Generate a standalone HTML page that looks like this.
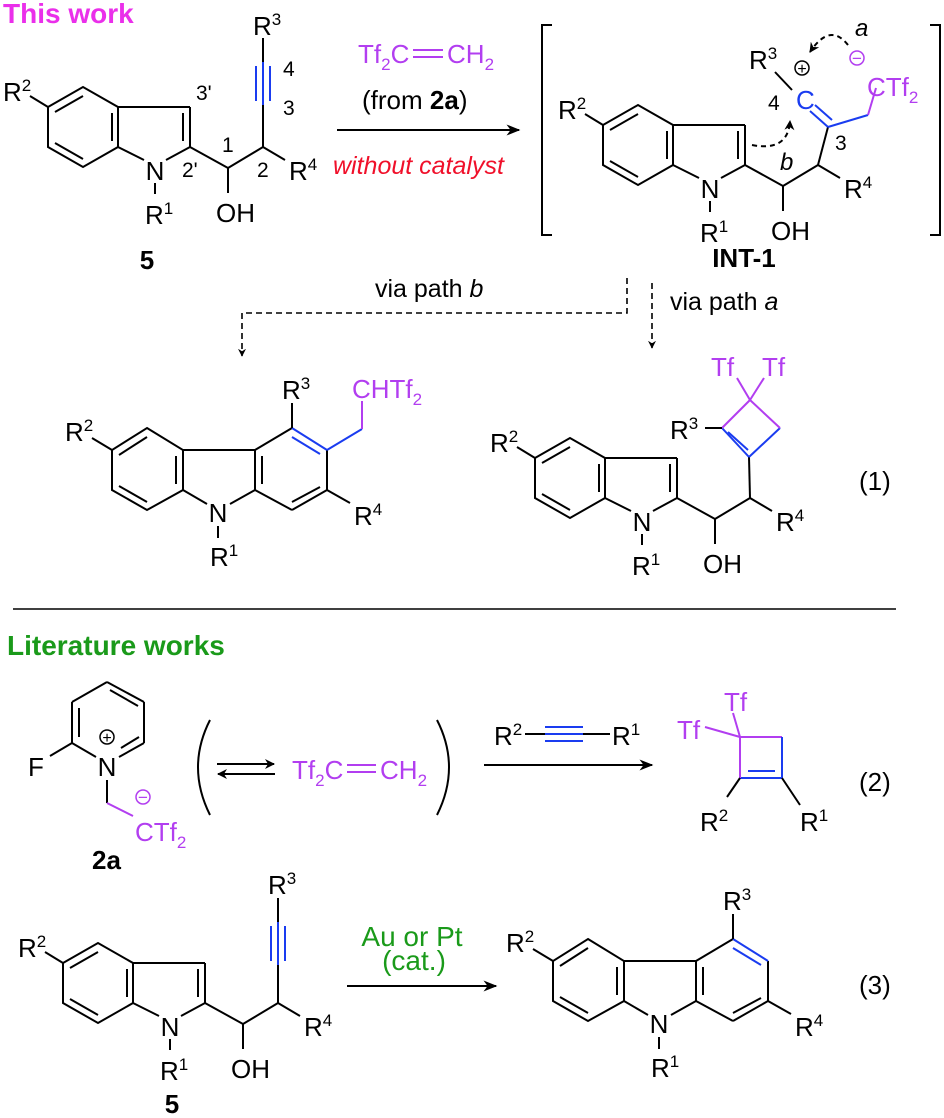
<!DOCTYPE html>
<html><head><meta charset="utf-8"><style>
html,body{margin:0;padding:0;background:#fff;}
svg{display:block;font-family:"Liberation Sans",Arial,sans-serif;}
</style></head><body>
<svg width="944" height="1118" viewBox="0 0 944 1118" xmlns="http://www.w3.org/2000/svg">
<defs>
<marker id="ah" viewBox="0 0 10 10" refX="9" refY="5" markerWidth="7" markerHeight="7" orient="auto"><path d="M0,1 L10,5 L0,9 L3,5 Z" fill="#000"/></marker>
<marker id="ahs" viewBox="0 0 10 10" refX="9" refY="5" markerWidth="5" markerHeight="5" orient="auto"><path d="M0,0 L10,5 L0,10 L3,5 Z" fill="#000"/></marker>
<g id="ind" stroke="#000" stroke-width="2" fill="none">
  <line x1="30" y1="96" x2="48" y2="107"/>
  <polygon points="48,107 83,87 118,107 118,147 83,167 48,147"/>
  <line x1="55" y1="112" x2="83" y2="96"/>
  <line x1="112" y1="113" x2="112" y2="141"/>
  <line x1="83" y1="159" x2="55" y2="143"/>
  <line x1="118" y1="107" x2="190" y2="107"/>
  <line x1="190" y1="107" x2="190" y2="147"/>
  <line x1="183" y1="113" x2="183" y2="141"/>
  <line x1="190" y1="147" x2="166" y2="160"/>
  <line x1="144" y1="160" x2="118" y2="147"/>
  <line x1="155" y1="183" x2="155" y2="194"/>
  <line x1="190" y1="147" x2="228" y2="168"/>
  <line x1="228" y1="168" x2="228" y2="193"/>
  <line x1="228" y1="168" x2="263" y2="147"/>
  <line x1="263" y1="147" x2="285" y2="160"/>
  <g stroke="none" fill="#000" font-size="26">
    <text x="3" y="101">R<tspan dy="-10" font-size="17">2</tspan></text>
    <text x="155" y="180" text-anchor="middle">N</text>
    <text x="145" y="224">R<tspan dy="-10" font-size="17">1</tspan></text>
    <text x="216" y="222">OH</text>
    <text x="289" y="180">R<tspan dy="-10" font-size="17">4</tspan></text>
  </g>
</g>
<g id="carb" stroke="#000" stroke-width="2" fill="none">
  <line x1="112" y1="450" x2="92" y2="438"/>
  <polygon points="147,428 183,450 183,490 147,510 112,490 112,450"/>
  <line x1="119" y1="455" x2="147" y2="437"/>
  <line x1="176" y1="456" x2="176" y2="484"/>
  <line x1="147" y1="502" x2="119" y2="486"/>
  <line x1="183" y1="450" x2="255" y2="450"/>
  <line x1="183" y1="490" x2="207" y2="504"/>
  <line x1="230" y1="504" x2="255" y2="490"/>
  <line x1="255" y1="450" x2="292" y2="428"/>
  <line x1="327" y1="450" x2="327" y2="490"/>
  <line x1="327" y1="490" x2="292" y2="510"/>
  <line x1="292" y1="510" x2="255" y2="490"/>
  <line x1="255" y1="490" x2="255" y2="450"/>
  <line x1="262" y1="456" x2="262" y2="484"/>
  <line x1="320" y1="487" x2="292" y2="502"/>
  <line x1="292" y1="428" x2="327" y2="450" stroke="#1a3cf0"/>
  <line x1="292" y1="437" x2="320" y2="454" stroke="#1a3cf0"/>
  <line x1="292" y1="428" x2="292" y2="403"/>
  <line x1="327" y1="490" x2="350" y2="503"/>
  <line x1="218" y1="526" x2="218" y2="538"/>
  <g stroke="none" fill="#000" font-size="26">
    <text x="65" y="441">R<tspan dy="-10" font-size="17">2</tspan></text>
    <text x="282" y="399">R<tspan dy="-10" font-size="17">3</tspan></text>
    <text x="218" y="522" text-anchor="middle">N</text>
    <text x="210" y="566">R<tspan dy="-10" font-size="17">1</tspan></text>
    <text x="354" y="525">R<tspan dy="-10" font-size="17">4</tspan></text>
  </g>
</g>
</defs>

<text x="3" y="23" font-size="28" font-weight="bold" fill="#ea2fea">This work</text>

<use href="#ind"/>
<g stroke-width="2" fill="none">
  <line x1="263" y1="147" x2="263" y2="105" stroke="#000"/>
  <line x1="263" y1="105" x2="263" y2="62" stroke="#1a3cf0"/>
  <line x1="256" y1="66" x2="256" y2="101" stroke="#1a3cf0"/>
  <line x1="270" y1="66" x2="270" y2="101" stroke="#1a3cf0"/>
  <line x1="263" y1="62" x2="263" y2="38" stroke="#000"/>
</g>
<text x="253" y="35" font-size="26">R<tspan dy="-10" font-size="17">3</tspan></text>
<g font-size="21" fill="#000">
  <text x="196" y="100">3'</text>
  <text x="283" y="76">4</text>
  <text x="283" y="115">3</text>
  <text x="182" y="177">2'</text>
  <text x="222" y="152">1</text>
  <text x="257" y="177">2</text>
</g>
<text x="147" y="269" font-size="26" font-weight="bold" text-anchor="middle">5</text>

<text x="358" y="63" font-size="26" fill="#b23ef0">Tf<tspan dy="7" font-size="17">2</tspan><tspan dy="-7">C</tspan></text>
<line x1="413" y1="50" x2="443" y2="50" stroke="#b23ef0" stroke-width="2"/>
<line x1="413" y1="57" x2="443" y2="57" stroke="#b23ef0" stroke-width="2"/>
<text x="447" y="63" font-size="26" fill="#b23ef0">CH<tspan dy="7" font-size="17">2</tspan></text>
<text x="362" y="109" font-size="26">(from <tspan font-weight="bold">2a</tspan>)</text>
<line x1="337" y1="130" x2="519" y2="130" stroke="#000" stroke-width="2" marker-end="url(#ah)"/>
<text x="333" y="174" font-size="25" font-style="italic" fill="#f0102a">without catalyst</text>

<path d="M552,25 L542,25 L542,235 L552,235" stroke="#000" stroke-width="2" fill="none"/>
<path d="M930,25 L940,25 L940,235 L930,235" stroke="#000" stroke-width="2" fill="none"/>
<use href="#ind" transform="translate(555,18)"/>
<g stroke-width="2" fill="none">
  <line x1="818" y1="165" x2="828" y2="127" stroke="#000"/>
  <line x1="828" y1="127" x2="810" y2="111" stroke="#1a3cf0"/>
  <line x1="832" y1="120" x2="815" y2="105" stroke="#1a3cf0"/>
  <line x1="828" y1="127" x2="868" y2="115" stroke="#1a3cf0"/>
  <line x1="868" y1="115" x2="876" y2="88" stroke="#b23ef0"/>
  <line x1="775" y1="72" x2="792" y2="90" stroke="#000"/>
  <circle cx="802" cy="68" r="7" stroke="#000" stroke-width="1.5"/>
  <circle cx="857" cy="58" r="7" stroke="#b23ef0" stroke-width="1.5"/>
  <path d="M848,45 Q830,22 810,52" stroke="#000" stroke-dasharray="5,4" marker-end="url(#ahs)"/>
  <path d="M752,145 Q788,152 790,121" stroke="#000" stroke-dasharray="5,4" marker-end="url(#ahs)"/>
</g>
<text x="802" y="74" font-size="16" text-anchor="middle">+</text>
<text x="857" y="64" font-size="17" text-anchor="middle" fill="#b23ef0">−</text>
<text x="749" y="69" font-size="26">R<tspan dy="-10" font-size="17">3</tspan></text>
<text x="796" y="109" font-size="26" fill="#1a3cf0">C</text>
<text x="867" y="96" font-size="26" fill="#b23ef0">CTf<tspan dy="7" font-size="17">2</tspan></text>
<text x="768" y="110" font-size="21">4</text>
<text x="835" y="150" font-size="21">3</text>
<text x="855" y="36" font-size="24" font-style="italic">a</text>
<text x="780" y="170" font-size="24" font-style="italic">b</text>
<text x="744" y="267" font-size="26" font-weight="bold" text-anchor="middle">INT-1</text>

<g stroke="#000" stroke-width="1.6" fill="none" stroke-dasharray="6,4">
  <path d="M627,278 L627,313 L242,313 L242,356" marker-end="url(#ahs)"/>
  <path d="M652,283 L652,348" marker-end="url(#ahs)"/>
</g>
<text x="375" y="297" font-size="25">via path <tspan font-style="italic">b</tspan></text>
<text x="670" y="310" font-size="25">via path <tspan font-style="italic">a</tspan></text>

<use href="#carb"/>
<line x1="327" y1="450" x2="362" y2="429" stroke="#1a3cf0" stroke-width="2"/>
<line x1="362" y1="429" x2="362" y2="401" stroke="#b23ef0" stroke-width="2"/>
<text x="352" y="398" font-size="26" fill="#b23ef0">CHTf<tspan dy="7" font-size="17">2</tspan></text>

<use href="#ind" transform="translate(487,351)"/>
<g stroke-width="2" fill="none">
  <line x1="750" y1="498" x2="749" y2="457" stroke="#000"/>
  <line x1="749" y1="457" x2="722" y2="428" stroke="#1a3cf0"/>
  <line x1="728" y1="432" x2="748" y2="450" stroke="#1a3cf0"/>
  <line x1="749" y1="457" x2="780" y2="428" stroke="#1a3cf0"/>
  <line x1="780" y1="428" x2="750" y2="400" stroke="#b23ef0"/>
  <line x1="750" y1="400" x2="722" y2="428" stroke="#b23ef0"/>
  <line x1="750" y1="400" x2="737" y2="378" stroke="#b23ef0"/>
  <line x1="750" y1="400" x2="764" y2="378" stroke="#b23ef0"/>
  <line x1="705" y1="428" x2="722" y2="428" stroke="#000"/>
</g>
<text x="670" y="439" font-size="26">R<tspan dy="-10" font-size="17">3</tspan></text>
<text x="711" y="376" font-size="26" fill="#b23ef0">Tf</text>
<text x="762" y="376" font-size="26" fill="#b23ef0">Tf</text>
<text x="859" y="490" font-size="26">(1)</text>

<line x1="13" y1="609" x2="896" y2="609" stroke="#000" stroke-width="1.6"/>

<text x="7" y="655" font-size="28" font-weight="bold" fill="#1a9a1a">Literature works</text>
<g stroke="#000" stroke-width="2" fill="none">
  <line x1="107" y1="682" x2="144" y2="702"/>
  <line x1="110" y1="690" x2="138" y2="706"/>
  <line x1="144" y1="702" x2="144" y2="743"/>
  <line x1="144" y1="743" x2="119" y2="757"/>
  <line x1="139" y1="737" x2="121" y2="748"/>
  <line x1="96" y1="757" x2="72" y2="743"/>
  <line x1="72" y1="743" x2="72" y2="702"/>
  <line x1="79" y1="737" x2="79" y2="708"/>
  <line x1="72" y1="702" x2="107" y2="682"/>
  <line x1="50" y1="756" x2="72" y2="743"/>
  <line x1="107" y1="780" x2="107" y2="803"/>
  <line x1="107" y1="803" x2="133" y2="816" stroke="#b23ef0"/>
  <circle cx="107" cy="737" r="7" stroke-width="1.5"/>
  <circle cx="143" cy="797" r="7" stroke="#b23ef0" stroke-width="1.5"/>
  <path d="M210,720 Q186,767 210,815"/>
  <path d="M437,720 Q461,767 437,815"/>
  <line x1="217" y1="764" x2="274" y2="764" marker-end="url(#ahs)"/>
  <line x1="275" y1="774" x2="218" y2="774" marker-end="url(#ahs)"/>
</g>
<text x="107" y="743" font-size="16" text-anchor="middle">+</text>
<text x="143" y="803" font-size="17" text-anchor="middle" fill="#b23ef0">−</text>
<text x="107" y="776" font-size="26" text-anchor="middle">N</text>
<text x="28" y="776" font-size="26">F</text>
<text x="135" y="841" font-size="26" fill="#b23ef0">CTf<tspan dy="7" font-size="17">2</tspan></text>
<text x="292" y="779" font-size="26" fill="#b23ef0">Tf<tspan dy="7" font-size="17">2</tspan><tspan dy="-7">C</tspan></text>
<line x1="347" y1="765" x2="376" y2="765" stroke="#b23ef0" stroke-width="2"/>
<line x1="347" y1="772" x2="376" y2="772" stroke="#b23ef0" stroke-width="2"/>
<text x="380" y="779" font-size="26" fill="#b23ef0">CH<tspan dy="7" font-size="17">2</tspan></text>
<text x="92" y="869" font-size="26" font-weight="bold">2a</text>

<text x="494" y="745" font-size="26">R<tspan dy="-10" font-size="17">2</tspan></text>
<text x="612" y="745" font-size="26">R<tspan dy="-10" font-size="17">1</tspan></text>
<g stroke-width="2" fill="none">
  <line x1="525" y1="734" x2="545" y2="734" stroke="#000"/>
  <line x1="583" y1="734" x2="610" y2="734" stroke="#000"/>
  <line x1="545" y1="727" x2="583" y2="727" stroke="#1a3cf0"/>
  <line x1="545" y1="734" x2="583" y2="734" stroke="#1a3cf0"/>
  <line x1="545" y1="741" x2="583" y2="741" stroke="#1a3cf0"/>
  <line x1="484" y1="765" x2="652" y2="765" stroke="#000" marker-end="url(#ah)"/>
  <line x1="740" y1="737" x2="782" y2="737" stroke="#b23ef0"/>
  <line x1="782" y1="737" x2="782" y2="778" stroke="#1a3cf0"/>
  <line x1="782" y1="778" x2="740" y2="778" stroke="#1a3cf0"/>
  <line x1="748" y1="771" x2="775" y2="771" stroke="#1a3cf0"/>
  <line x1="740" y1="778" x2="740" y2="737" stroke="#b23ef0"/>
  <line x1="740" y1="737" x2="733" y2="713" stroke="#b23ef0"/>
  <line x1="740" y1="737" x2="705" y2="727" stroke="#b23ef0"/>
  <line x1="740" y1="778" x2="727" y2="797" stroke="#000"/>
  <line x1="782" y1="778" x2="800" y2="805" stroke="#000"/>
</g>
<text x="724" y="711" font-size="26" fill="#b23ef0">Tf</text>
<text x="677" y="739" font-size="26" fill="#b23ef0">Tf</text>
<text x="700" y="831" font-size="26">R<tspan dy="-10" font-size="17">2</tspan></text>
<text x="800" y="831" font-size="26">R<tspan dy="-10" font-size="17">1</tspan></text>
<text x="859" y="791" font-size="26">(2)</text>

<use href="#ind" transform="translate(15,856)"/>
<g stroke-width="2" fill="none">
  <line x1="278" y1="1003" x2="278" y2="965" stroke="#000"/>
  <line x1="278" y1="965" x2="278" y2="922" stroke="#1a3cf0"/>
  <line x1="271" y1="926" x2="271" y2="961" stroke="#1a3cf0"/>
  <line x1="285" y1="926" x2="285" y2="961" stroke="#1a3cf0"/>
  <line x1="278" y1="922" x2="278" y2="898" stroke="#000"/>
  <line x1="347" y1="986" x2="496" y2="986" stroke="#000" marker-end="url(#ah)"/>
</g>
<text x="268" y="894" font-size="26">R<tspan dy="-10" font-size="17">3</tspan></text>
<text x="172" y="1113" font-size="26" font-weight="bold" text-anchor="middle">5</text>
<text x="412" y="946" font-size="28" fill="#1a9a1a" text-anchor="middle">Au or Pt</text>
<text x="414" y="970" font-size="28" fill="#1a9a1a" text-anchor="middle">(cat.)</text>
<use href="#carb" transform="translate(441,511)"/>
<text x="859" y="994" font-size="26">(3)</text>
</svg>
</body></html>
